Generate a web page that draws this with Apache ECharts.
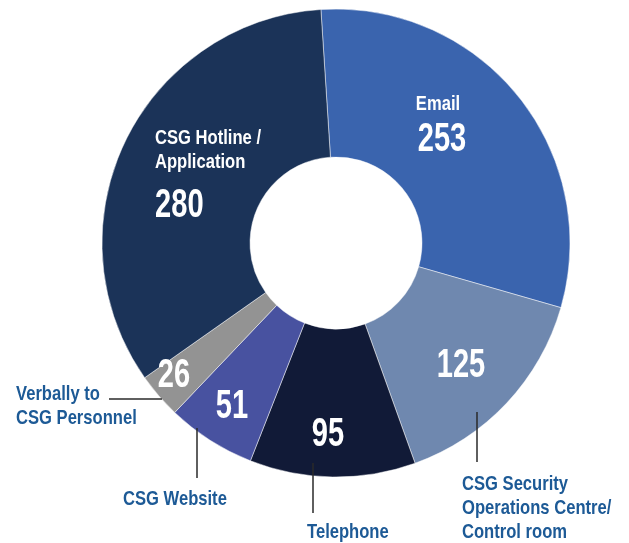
<!DOCTYPE html>
<html>
<head>
<meta charset="utf-8">
<script src="https://cdn.jsdelivr.net/npm/echarts@6/dist/echarts.min.js"></script>
<style>
  html, body { margin: 0; padding: 0; background: #fff; }
  #chart { width: 629px; height: 543px; }
</style>
</head>
<body>
<div id="chart"></div>
<script>
// 数据
const categories = ['Email', 'CSG Security\nOperations Centre/\nControl room', 'Telephone', 'CSG Website', 'Verbally to\nCSG Personnel', 'CSG Hotline /\nApplication']
const values = [253, 125, 95, 51, 26, 280]
const sliceColors = ['#3a64ae', '#6f88af', '#111a37', '#4852a0', '#939393', '#1b3358']

// 数值标签位置 (x, y, align)
const valuePos = [
  [442, 140, 'center'],
  [461, 366, 'center'],
  [328, 435, 'center'],
  [232, 407, 'center'],
  [174, 376, 'center'],
  [155, 206, 'left'],
]

// 名称标签：inside = 白色扇区内文字，其余带引线
const nameLabels = [
  { idx: 0, text: [438, 92], align: 'center', inside: true },
  { idx: 5, text: [155, 126], align: 'left', inside: true },
  { idx: 1, text: [462, 472], align: 'left', line: [477, 412, 477, 462] },
  { idx: 2, text: [307, 520], align: 'left', line: [313, 463, 313, 513] },
  { idx: 3, text: [123, 487], align: 'left', line: [197, 428, 197, 478] },
  { idx: 4, text: [16, 382], align: 'left', line: [109, 399, 162, 399] },
]

const FONT = "'Liberation Sans', Arial, sans-serif"
const LABEL_BLUE = '#1d5a96'
const NAME_SCALE = 0.79
const VALUE_SCALE = 0.71

const chart = echarts.init(document.getElementById('chart'))

const graphics = []
nameLabels.forEach(o => {
  if (o.line) {
    graphics.push({
      type: 'line',
      shape: { x1: o.line[0], y1: o.line[1], x2: o.line[2], y2: o.line[3] },
      style: { stroke: '#2a2a2a', lineWidth: 1.5 },
      silent: true,
      z: 10,
    })
  }
  graphics.push({
    type: 'text',
    x: o.text[0],
    y: o.text[1],
    scaleX: NAME_SCALE,
    style: {
      text: categories[o.idx],
      fill: o.inside ? '#fff' : LABEL_BLUE,
      font: 'bold 21px ' + FONT,
      lineHeight: 24,
      align: o.align,
      verticalAlign: 'top',
    },
    silent: true,
    z: 10,
  })
})

values.forEach((v, i) => {
  const p = valuePos[i]
  graphics.push({
    type: 'text',
    x: p[0],
    y: p[1],
    scaleX: VALUE_SCALE,
    style: {
      text: String(v),
      fill: '#fff',
      font: 'bold 41px ' + FONT,
      align: p[2],
      verticalAlign: 'middle',
    },
    silent: true,
    z: 10,
  })
})

chart.setOption({
  animation: false,
  graphic: graphics,
  series: [{
    type: 'pie',
    center: [336, 243],
    radius: [86, 234],
    startAngle: 93.7,
    clockwise: true,
    emphasis: { disabled: true },
    itemStyle: { borderColor: 'rgba(255,255,255,0.6)', borderWidth: 0.8 },
    label: { show: false },
    labelLine: { show: false },
    data: categories.map((name, i) => ({
      name: name,
      value: values[i],
      itemStyle: { color: sliceColors[i] },
    })),
  }],
})
</script>
</body>
</html>
